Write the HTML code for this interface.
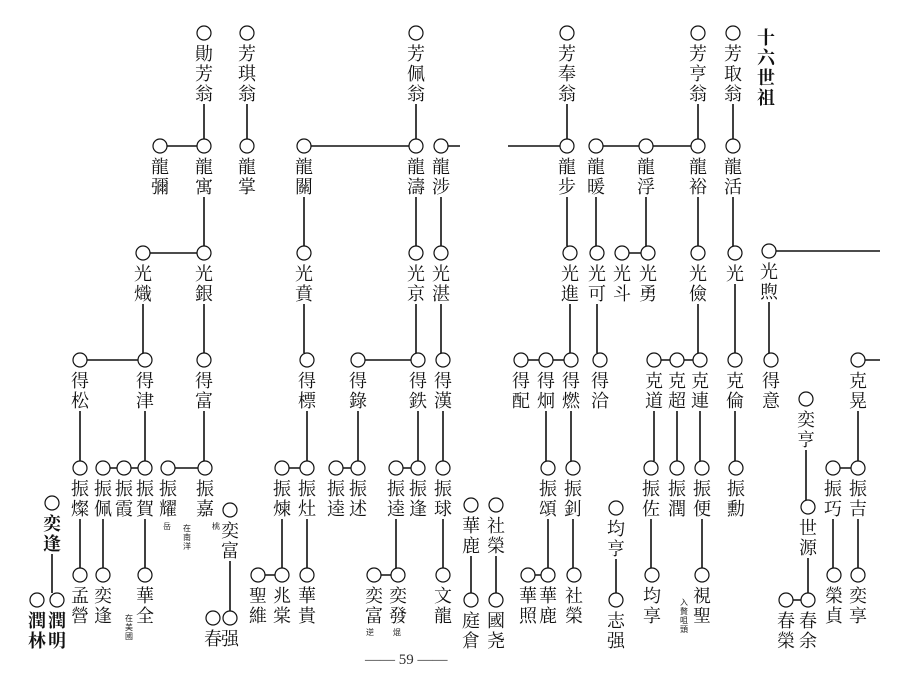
<!DOCTYPE html>
<html><head><meta charset="utf-8"><style>
body{margin:0;background:#fff;}
#w{position:relative;width:905px;height:682px;overflow:hidden;background:#fff;}
svg{position:absolute;left:0;top:0;}
.t{position:absolute;width:20px;font:18px/20px "Liberation Sans","Noto Serif CJK SC","Noto Sans CJK SC",serif;color:#111;text-align:center;word-break:break-all;}
.s{position:absolute;width:9px;font:8px/9px "Noto Sans CJK SC",sans-serif;color:#222;word-break:break-all;}
</style></head><body><div id="w">
<svg width="905" height="682" stroke="#111" fill="none" stroke-width="1.6">
<g fill="#fff" stroke-width="1.2">
<circle cx="204" cy="33" r="7"/><circle cx="247" cy="33" r="7"/><circle cx="416" cy="33" r="7"/><circle cx="567" cy="33" r="7"/><circle cx="698" cy="33" r="7"/><circle cx="733" cy="33" r="7"/>
<circle cx="160" cy="146" r="7"/><circle cx="204" cy="146" r="7"/><circle cx="247" cy="146" r="7"/><circle cx="304" cy="146" r="7"/><circle cx="416" cy="146" r="7"/><circle cx="441" cy="146" r="7"/><circle cx="567" cy="146" r="7"/><circle cx="596" cy="146" r="7"/><circle cx="646" cy="146" r="7"/><circle cx="698" cy="146" r="7"/><circle cx="733" cy="146" r="7"/>
<circle cx="143" cy="253" r="7"/><circle cx="204" cy="253" r="7"/><circle cx="304" cy="253" r="7"/><circle cx="416" cy="253" r="7"/><circle cx="441" cy="253" r="7"/><circle cx="570" cy="253" r="7"/><circle cx="597" cy="253" r="7"/><circle cx="622" cy="253" r="7"/><circle cx="648" cy="253" r="7"/><circle cx="698" cy="253" r="7"/><circle cx="735" cy="253" r="7"/><circle cx="769" cy="251" r="7"/>
<circle cx="80" cy="360" r="7"/><circle cx="145" cy="360" r="7"/><circle cx="204" cy="360" r="7"/><circle cx="307" cy="360" r="7"/><circle cx="358" cy="360" r="7"/><circle cx="418" cy="360" r="7"/><circle cx="443" cy="360" r="7"/><circle cx="521" cy="360" r="7"/><circle cx="546" cy="360" r="7"/><circle cx="571" cy="360" r="7"/><circle cx="600" cy="360" r="7"/><circle cx="654" cy="360" r="7"/><circle cx="677" cy="360" r="7"/><circle cx="700" cy="360" r="7"/><circle cx="735" cy="360" r="7"/><circle cx="771" cy="360" r="7"/><circle cx="858" cy="360" r="7"/>
<circle cx="80" cy="468" r="7"/><circle cx="103" cy="468" r="7"/><circle cx="124" cy="468" r="7"/><circle cx="145" cy="468" r="7"/><circle cx="168" cy="468" r="7"/><circle cx="205" cy="468" r="7"/><circle cx="282" cy="468" r="7"/><circle cx="307" cy="468" r="7"/><circle cx="336" cy="468" r="7"/><circle cx="358" cy="468" r="7"/><circle cx="396" cy="468" r="7"/><circle cx="418" cy="468" r="7"/><circle cx="443" cy="468" r="7"/><circle cx="548" cy="468" r="7"/><circle cx="573" cy="468" r="7"/><circle cx="651" cy="468" r="7"/><circle cx="677" cy="468" r="7"/><circle cx="702" cy="468" r="7"/><circle cx="736" cy="468" r="7"/><circle cx="833" cy="468" r="7"/><circle cx="858" cy="468" r="7"/>
<circle cx="52" cy="503" r="7"/><circle cx="230" cy="510" r="7"/><circle cx="471" cy="505" r="7"/><circle cx="496" cy="505" r="7"/><circle cx="616" cy="508" r="7"/><circle cx="806" cy="399" r="7"/><circle cx="808" cy="507" r="7"/>
<circle cx="80" cy="575" r="7"/><circle cx="103" cy="575" r="7"/><circle cx="145" cy="575" r="7"/><circle cx="258" cy="575" r="7"/><circle cx="282" cy="575" r="7"/><circle cx="307" cy="575" r="7"/><circle cx="374" cy="575" r="7"/><circle cx="398" cy="575" r="7"/><circle cx="443" cy="575" r="7"/><circle cx="528" cy="575" r="7"/><circle cx="548" cy="575" r="7"/><circle cx="574" cy="575" r="7"/><circle cx="652" cy="575" r="7"/><circle cx="702" cy="575" r="7"/><circle cx="834" cy="575" r="7"/><circle cx="858" cy="575" r="7"/>
<circle cx="37" cy="600" r="7"/><circle cx="57" cy="600" r="7"/><circle cx="213" cy="618" r="7"/><circle cx="230" cy="618" r="7"/><circle cx="471" cy="600" r="7"/><circle cx="496" cy="600" r="7"/><circle cx="616" cy="600" r="7"/><circle cx="786" cy="600" r="7"/><circle cx="808" cy="600" r="7"/>
</g>
<path d="M167 146H197M311 146H409M448 146H460M508 146H560M603 146H639M653 146H691M150 253H197M629 253H641M776 251H880M87 360H138M365 360H411M528 360H539M553 360H564M661 360H670M684 360H693M865 360H880M110 468H117M131 468H138M175 468H198M289 468H300M343 468H351M403 468H411M840 468H851M265 575H275M381 575H391M535 575H541M793 600H801"/>
<path d="M204 104V139M247 104V139M416 104V139M567 104V139M698 104V139M733 104V139
M204 197V246M304 197V246M416 197V246M441 197V246M567 197V246M596 197V246M646 197V246M698 197V246M733 197V246
M143 304V353M204 304V353M304 304V353M416 304V353M441 304V353M570 304V353M597 304V353M698 304V353M735 284V353M769 302V353
M80 411V461M145 411V461M204 411V461M307 411V461M358 411V461M418 411V461M443 411V461M546 411V461M571 411V461M654 411V461M677 411V461M700 411V461M735 411V461M858 411V461
M80 519V568M103 519V568M145 519V568M282 519V568M307 519V568M396 519V568M443 519V568M548 519V568M573 519V568M651 519V568M702 519V568M833 519V568M858 519V568
M806 450V500M808 558V593M52 554V593M230 561V611M471 556V593M496 556V593M616 559V593"/>
</svg>
<div class="t" style="left:756px;top:28px;font-weight:bold">十六世祖</div>
<div class="t" style="left:194px;top:44px">勛芳翁</div><div class="t" style="left:237px;top:44px">芳琪翁</div><div class="t" style="left:406px;top:44px">芳佩翁</div><div class="t" style="left:557px;top:44px">芳奉翁</div><div class="t" style="left:688px;top:44px">芳亨翁</div><div class="t" style="left:723px;top:44px">芳取翁</div>
<div class="t" style="left:150px;top:157px">龍彌</div><div class="t" style="left:194px;top:157px">龍寓</div><div class="t" style="left:237px;top:157px">龍掌</div><div class="t" style="left:294px;top:157px">龍關</div><div class="t" style="left:406px;top:157px">龍濤</div><div class="t" style="left:431px;top:157px">龍涉</div><div class="t" style="left:557px;top:157px">龍步</div><div class="t" style="left:586px;top:157px">龍暖</div><div class="t" style="left:636px;top:157px">龍浮</div><div class="t" style="left:688px;top:157px">龍裕</div><div class="t" style="left:723px;top:157px">龍活</div>
<div class="t" style="left:133px;top:264px">光熾</div><div class="t" style="left:194px;top:264px">光銀</div><div class="t" style="left:294px;top:264px">光賁</div><div class="t" style="left:406px;top:264px">光京</div><div class="t" style="left:431px;top:264px">光湛</div><div class="t" style="left:560px;top:264px">光進</div><div class="t" style="left:587px;top:264px">光可</div><div class="t" style="left:612px;top:264px">光斗</div><div class="t" style="left:638px;top:264px">光勇</div><div class="t" style="left:688px;top:264px">光儉</div><div class="t" style="left:725px;top:264px">光</div><div class="t" style="left:759px;top:262px">光煦</div>
<div class="t" style="left:70px;top:371px">得松</div><div class="t" style="left:135px;top:371px">得津</div><div class="t" style="left:194px;top:371px">得富</div><div class="t" style="left:297px;top:371px">得標</div><div class="t" style="left:348px;top:371px">得錄</div><div class="t" style="left:408px;top:371px">得鉄</div><div class="t" style="left:433px;top:371px">得漢</div><div class="t" style="left:511px;top:371px">得配</div><div class="t" style="left:536px;top:371px">得炯</div><div class="t" style="left:561px;top:371px">得燃</div><div class="t" style="left:590px;top:371px">得洽</div><div class="t" style="left:644px;top:371px">克道</div><div class="t" style="left:667px;top:371px">克超</div><div class="t" style="left:690px;top:371px">克連</div><div class="t" style="left:725px;top:371px">克倫</div><div class="t" style="left:761px;top:371px">得意</div><div class="t" style="left:848px;top:371px">克晃</div>
<div class="t" style="left:70px;top:479px">振燦</div><div class="t" style="left:93px;top:479px">振佩</div><div class="t" style="left:114px;top:479px">振霞</div><div class="t" style="left:135px;top:479px">振賀</div><div class="t" style="left:158px;top:479px">振耀</div><div class="t" style="left:195px;top:479px">振嘉</div><div class="t" style="left:272px;top:479px">振煉</div><div class="t" style="left:297px;top:479px">振灶</div><div class="t" style="left:326px;top:479px">振逵</div><div class="t" style="left:348px;top:479px">振述</div><div class="t" style="left:386px;top:479px">振逵</div><div class="t" style="left:408px;top:479px">振逢</div><div class="t" style="left:433px;top:479px">振球</div><div class="t" style="left:538px;top:479px">振頌</div><div class="t" style="left:563px;top:479px">振釗</div><div class="t" style="left:641px;top:479px">振佐</div><div class="t" style="left:667px;top:479px">振潤</div><div class="t" style="left:692px;top:479px">振便</div><div class="t" style="left:726px;top:479px">振勳</div><div class="t" style="left:823px;top:479px">振巧</div><div class="t" style="left:848px;top:479px">振吉</div>
<div class="t" style="left:42px;top:514px;font-weight:bold">奕逢</div><div class="t" style="left:220px;top:521px">奕富</div><div class="t" style="left:461px;top:516px">華鹿</div><div class="t" style="left:486px;top:516px">社榮</div><div class="t" style="left:606px;top:519px">均亨</div><div class="t" style="left:796px;top:410px">奕亨</div><div class="t" style="left:798px;top:518px">世源</div>
<div class="t" style="left:70px;top:586px">孟營</div><div class="t" style="left:93px;top:586px">奕逢</div><div class="t" style="left:135px;top:586px">華全</div><div class="t" style="left:248px;top:586px">聖維</div><div class="t" style="left:272px;top:586px">兆棠</div><div class="t" style="left:297px;top:586px">華貴</div><div class="t" style="left:364px;top:586px">奕富</div><div class="t" style="left:388px;top:586px">奕發</div><div class="t" style="left:433px;top:586px">文龍</div><div class="t" style="left:518px;top:586px">華照</div><div class="t" style="left:538px;top:586px">華鹿</div><div class="t" style="left:564px;top:586px">社榮</div><div class="t" style="left:642px;top:586px">均享</div><div class="t" style="left:692px;top:586px">視聖</div><div class="t" style="left:824px;top:586px">榮貞</div><div class="t" style="left:848px;top:586px">奕享</div>
<div class="t" style="left:27px;top:611px;font-weight:bold">潤林</div><div class="t" style="left:47px;top:611px;font-weight:bold">潤明</div><div class="t" style="left:203px;top:629px">春</div><div class="t" style="left:220px;top:629px">强</div><div class="t" style="left:461px;top:611px">庭倉</div><div class="t" style="left:486px;top:611px">國尧</div><div class="t" style="left:606px;top:611px">志强</div><div class="t" style="left:776px;top:611px">春榮</div><div class="t" style="left:798px;top:611px">春余</div>
<div class="s" style="left:163px;top:522px">岳</div><div class="s" style="left:212px;top:522px">桃</div><div class="s" style="left:183px;top:524px">在南洋</div><div class="s" style="left:125px;top:614px">在美國</div><div class="s" style="left:366px;top:628px">逆</div><div class="s" style="left:393px;top:628px">焜</div><div class="s" style="left:680px;top:598px">入贅咀頭</div>
<div style="position:absolute;left:365px;top:652px;font:15px 'Liberation Serif',serif;color:#333">—— 59 ——</div>
</div></body></html>
